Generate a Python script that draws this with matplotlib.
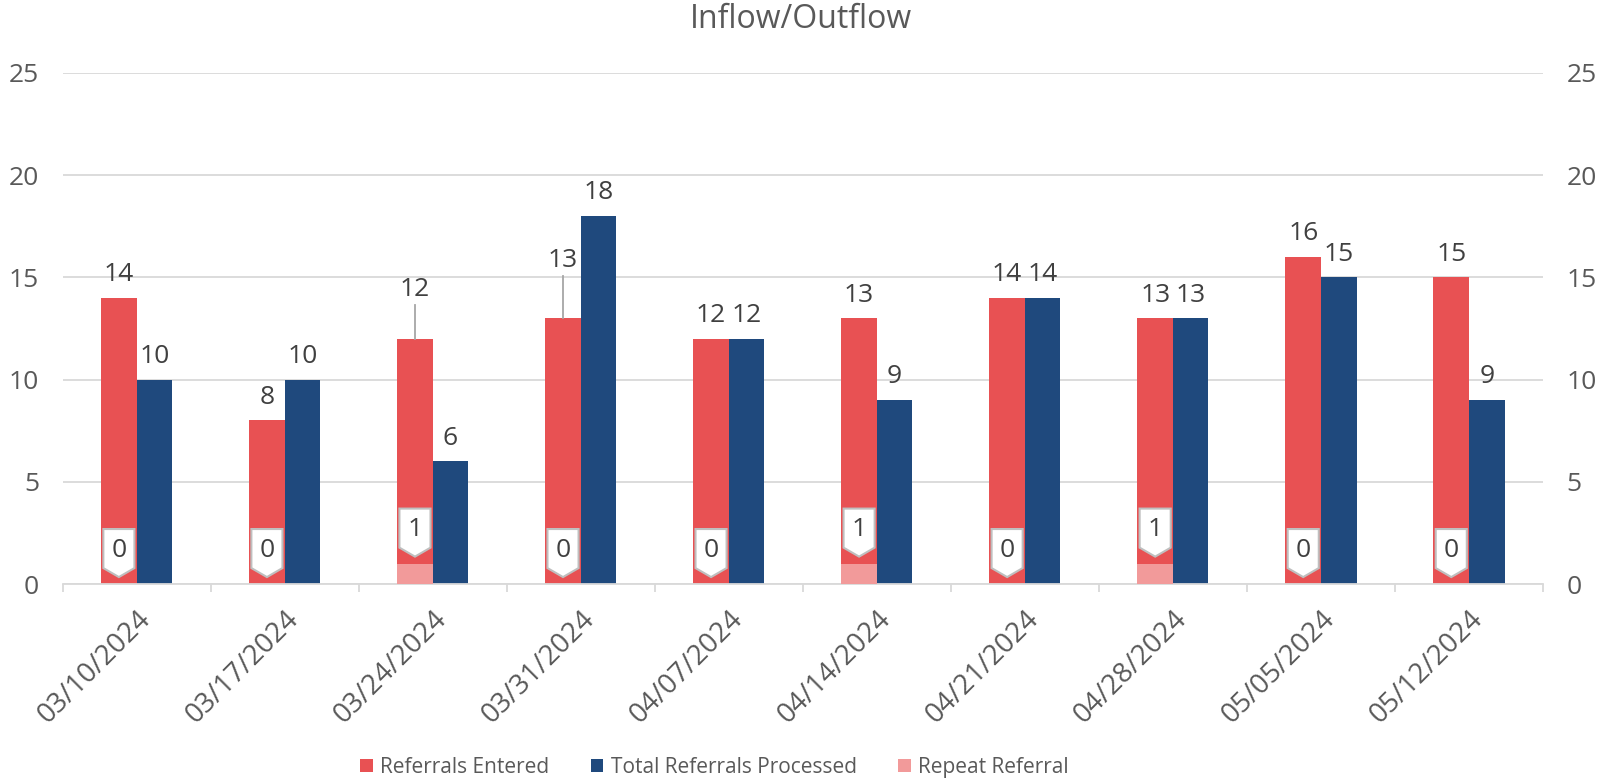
import numpy as np
import matplotlib
matplotlib.use("Agg")
import matplotlib.pyplot as plt
from matplotlib.patches import Polygon

plt.rcParams['font.family'] = ['Open Sans', 'DejaVu Sans']

# data
weeks = ["03/10/2024", "03/17/2024", "03/24/2024", "03/31/2024", "04/07/2024",
         "04/14/2024", "04/21/2024", "04/28/2024", "05/05/2024", "05/12/2024"]
referrals_entered = [14, 8, 12, 13, 12, 13, 14, 13, 16, 15]
total_processed = [10, 10, 6, 18, 12, 9, 14, 13, 15, 9]
repeat_referral = [0, 0, 1, 0, 0, 1, 0, 1, 0, 0]

# labels that Excel pushed up with a leader line (index -> label baseline)
moved_labels = {2: 14.1, 3: 15.5}

red = "#E85153"
blue = "#1F497D"
pink = "#F29A9A"
grid_col = "#D9D9D9"
txt_col = "#404040"
tick_col = "#595959"

fig = plt.figure(figsize=(16.02, 7.79), dpi=100)
ax = fig.add_axes([0.0391, 0.2503, 0.9241, 0.6560])

x = np.arange(len(weeks))
w = 0.24
ax.bar(x - w / 2, referrals_entered, w, color=red, label="Referrals Entered", zorder=2)
ax.bar(x + w / 2, total_processed, w, color=blue, label="Total Referrals Processed", zorder=2)
ax.bar(x - w / 2, repeat_referral, w, color=pink, label="Repeat Referral", zorder=3)

# value labels above bars
for i in x:
    v = referrals_entered[i]
    if i in moved_labels:
        ax.plot([i - w / 2, i - w / 2], [v, moved_labels[i] - 0.45], color="#A6A6A6", lw=1.3, zorder=3)
        ax.text(i - w / 2, moved_labels[i], str(v), ha="center", va="baseline",
                fontsize=19, color=txt_col)
    else:
        ax.annotate(str(v), (i - w / 2, v), xytext=(0, 12), textcoords="offset points",
                    ha="center", va="baseline", fontsize=19, color=txt_col)
    ax.annotate(str(total_processed[i]), (i + w / 2, total_processed[i]), xytext=(0, 12),
                textcoords="offset points", ha="center", va="baseline", fontsize=19, color=txt_col)

# callout shapes for the repeat referrals
hw = 0.105
for i in x:
    r = repeat_referral[i]
    cx = i - w / 2
    pts = [(cx - hw, r + 2.69), (cx + hw, r + 2.69), (cx + hw, r + 0.78),
           (cx, r + 0.34), (cx - hw, r + 0.78)]
    ax.add_patch(Polygon(pts, closed=True, facecolor="white", edgecolor="#BFBFBF",
                         lw=1.5, zorder=4))
    ax.text(cx, r + 1.66, str(r), ha="center", va="center", fontsize=19,
            color=txt_col, zorder=5)

ax.set_xlim(-0.5, len(weeks) - 0.5)
ax.set_ylim(0, 25)
ax.set_yticks(range(0, 26, 5))
ax.yaxis.grid(True, color=grid_col, lw=1.3, zorder=0)
ax.set_axisbelow(True)
for s in ["top", "left", "right"]:
    ax.spines[s].set_visible(False)
ax.spines["bottom"].set_color(grid_col)
ax.spines["bottom"].set_linewidth(1.3)

ax.set_xticks(x)
ax.set_xticklabels(weeks, rotation=45, ha="right", rotation_mode="anchor",
                   fontsize=20, color=tick_col)
ax.set_xticks(np.arange(-0.5, len(weeks), 1), minor=True)
ax.tick_params(axis="x", which="major", length=0, pad=15)
ax.tick_params(axis="x", which="minor", length=6, color=grid_col, width=1.3)
ax.tick_params(axis="y", length=0, pad=17, labelsize=19, labelcolor=tick_col)

ax2 = ax.twinx()
ax2.set_ylim(0, 25)
ax2.set_yticks(range(0, 26, 5))
ax2.tick_params(axis="y", length=0, pad=17, labelsize=19, labelcolor=tick_col)
for s in ["top", "left", "right", "bottom"]:
    ax2.spines[s].set_visible(False)

fig.text(0.5, 1 - 20 / 779, "Inflow/Outflow", ha="center", va="center",
         fontsize=23, color=tick_col)

handles, labels = ax.get_legend_handles_labels()
fig.legend(handles, labels, loc="center", bbox_to_anchor=(0.446, 0.0154), ncol=3,
           frameon=False, fontsize=15, handlelength=0.6, handleheight=0.6,
           handletextpad=0.35, columnspacing=2.0, labelcolor=tick_col)

fig.savefig("out.png", dpi=100)
